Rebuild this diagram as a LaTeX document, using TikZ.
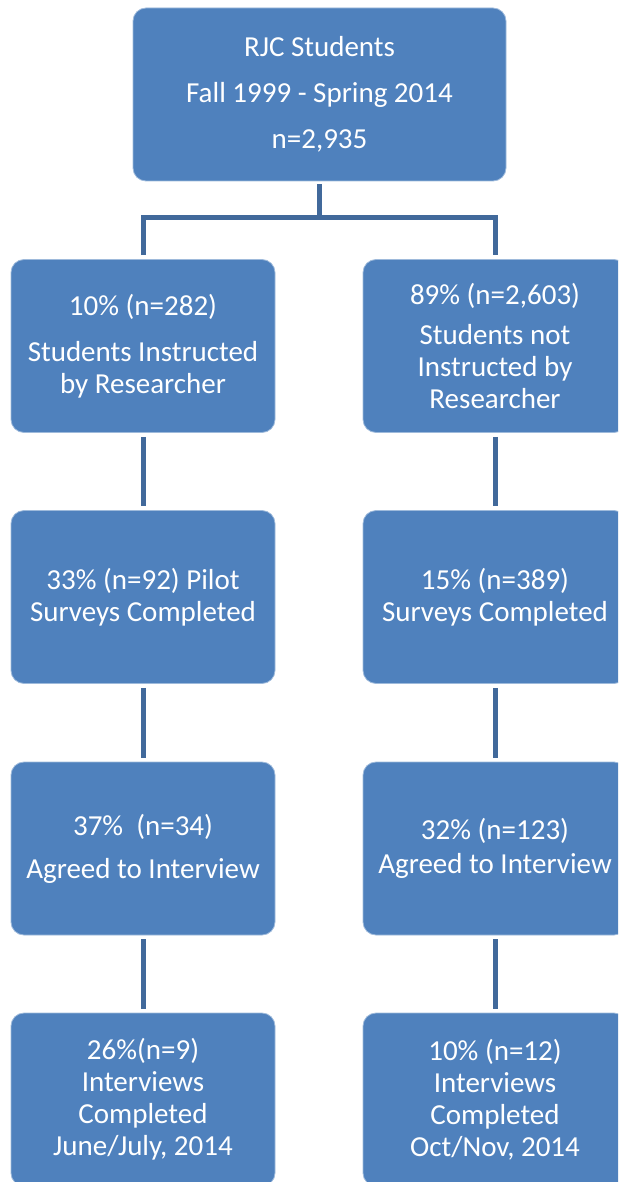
\documentclass[tikz,border=0pt]{standalone}
\usepackage{fontspec}
\setmainfont{Carlito}
\definecolor{FlowBlue}{HTML}{4F81BD}
\definecolor{FlowLink}{HTML}{41699B}

\begin{document}
\begin{tikzpicture}[
  x=1pt,
  y=-1pt,
  font=\fontsize{29}{32}\selectfont,
  box/.style={
    draw=FlowBlue!55!white,
    line width=0.8pt,
    fill=FlowBlue,
    text=white,
    rounded corners=13pt,
    align=center,
    inner sep=0pt
  },
  topbox/.style={box, minimum width=373pt, minimum height=173pt},
  stagebox/.style={box, minimum width=264pt, minimum height=173pt},
  link/.style={draw=FlowLink, line width=5pt, shorten <=4pt, shorten >=4pt}
]
\useasboundingbox (0,0) rectangle (618,1182);
\clip (0,0) rectangle (618,1182);

\node[topbox] (all) at (319.5,94.5) {RJC Students\\[14pt]Fall 1999 - Spring 2014\\[14pt]n=2,935};
\coordinate (split) at (319.5,218);

% left column: taught by the researcher
\node[stagebox] (instr) at (143,346) {10\% (n=282)\\[14pt]Students Instructed\\by Researcher};
\node[stagebox] (pilot) at (143,597) {33\% (n=92) Pilot\\Surveys Completed};
\node[stagebox] (agreedl) at (143,848.5) {37\%\ \ (n=34)\\[11pt]Agreed to Interview};
\node[stagebox] (donel) at (143,1099.5) {26\%(n=9)\\Interviews\\Completed\\June/July, 2014};

% right column: not taught by the researcher
\node[stagebox] (noninstr) at (495,346) {89\% (n=2,603)\\[8pt]Students not\\Instructed by\\Researcher};
\node[stagebox] (surveys) at (495,597) {15\% (n=389)\\Surveys Completed};
\node[stagebox] (agreedr) at (495,848.5) {32\% (n=123)\\[2pt]Agreed to Interview};
\node[stagebox] (doner) at (495,1099.5) {10\% (n=12)\\Interviews\\Completed\\Oct/Nov, 2014};

\draw[link, shorten <=3pt, shorten >=0pt] (all.south) -- (split);
\draw[link] (instr.north) |- (split) -| (noninstr.north);
\draw[link] (instr) -- (pilot);
\draw[link] (pilot) -- (agreedl);
\draw[link] (agreedl) -- (donel);
\draw[link] (noninstr) -- (surveys);
\draw[link] (surveys) -- (agreedr);
\draw[link] (agreedr) -- (doner);
\end{tikzpicture}
\end{document}
